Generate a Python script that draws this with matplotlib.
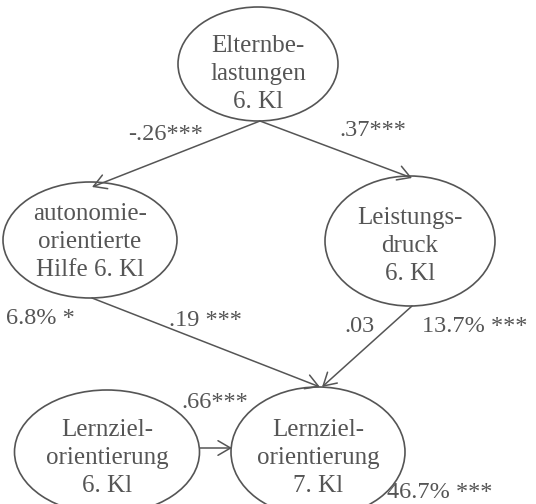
import matplotlib
matplotlib.use("Agg")
import matplotlib.pyplot as plt
from matplotlib.patches import Ellipse, FancyArrowPatch

# ---- data ----
node_labels = [
    "Elternbe-\nlastungen\n6. Kl",
    "autonomie-\norientierte\nHilfe 6. Kl",
    "Leistungs-\ndruck\n6. Kl",
    "Lernziel-\norientierung\n6. Kl",
    "Lernziel-\norientierung\n7. Kl",
]
edges = [(0, 1), (0, 2), (1, 4), (2, 4), (3, 4)]
edge_labels = ["-.26***", ".37***", ".19 ***", ".03", ".66***"]
r2_labels = ["6.8% *", "13.7% ***", "46.7% ***"]

# ---- layout (pixel coordinates, y downwards) ----
node_xy = [(258, 64), (90, 240), (410, 241), (107, 452), (318, 452)]
node_wh = [(160, 114), (174, 116), (170, 130), (185, 124), (174, 130)]
text_dy = [10, 2, 5, 6, 6]
edge_pts = [((260, 121), (92, 187)), ((260, 121), (412, 178)),
            ((92, 298), (320, 387)), ((412, 306), (322, 387)),
            ((200, 448), (232, 448))]
edge_label_xy = [(166, 134), (373, 131), (205, 320), (360, 327), (215, 402)]
r2_xy = [(40, 318), (475, 327), (440, 492)]

col = "#555555"
fig = plt.figure(figsize=(5.36, 5.04), dpi=100)
ax = fig.add_axes([0, 0, 1, 1])
ax.set_xlim(0, 536)
ax.set_ylim(504, 0)
ax.axis("off")
font = "Liberation Serif"

for lab, (x, y), (w, h), dy in zip(node_labels, node_xy, node_wh, text_dy):
    ax.add_patch(Ellipse((x, y), w, h, fill=False, edgecolor=col, lw=1.2))
    ax.text(x, y + dy, lab, ha="center", va="center", fontsize=18,
            family=font, color=col, linespacing=1.36)

for (p0, p1) in edge_pts:
    ax.add_patch(FancyArrowPatch(p0, p1, arrowstyle="->,head_length=6,head_width=3.5",
                                 color=col, lw=1.1, shrinkA=0, shrinkB=0,
                                 mutation_scale=1.5))

for lab, (x, y) in zip(edge_labels, edge_label_xy):
    ax.text(x, y, lab, ha="center", va="center", fontsize=17.5, family=font, color=col)
for lab, (x, y) in zip(r2_labels, r2_xy):
    ax.text(x, y, lab, ha="center", va="center", fontsize=17.5, family=font, color=col)

fig.savefig("out.png", dpi=100, facecolor="white")
